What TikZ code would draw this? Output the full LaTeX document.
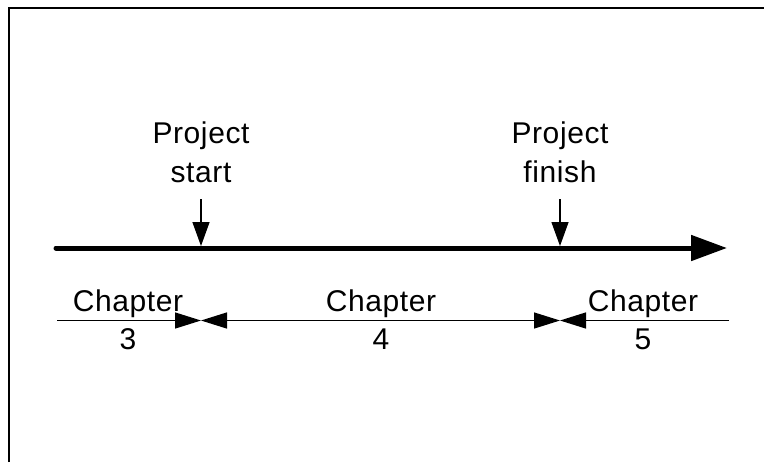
\documentclass[tikz,border=0pt]{standalone}
\usepackage{fontspec}
\setmainfont{Liberation Sans}
\newfontfamily\lblfont[LetterSpace=2]{Liberation Sans}
\usetikzlibrary{arrows.meta}
\begin{document}
\begin{tikzpicture}[x=0.75pt,y=-0.75pt,
  lbl/.style={font=\lblfont\fontsize{22.5}{26}\selectfont, inner sep=0pt, anchor=base},
  frame/.style={line width=1.5pt},
  timeline/.style={line width=3.75pt, line cap=round, -{Triangle[length=27pt,width=18.75pt]}},
  marker/.style={line width=1pt, -{Triangle[length=18pt,width=12.75pt]}},
  span/.style={line width=1pt},
  spantip/.tip={Triangle[length=19.5pt,width=12pt]}
]
\useasboundingbox (0,0) rectangle (764,462);

% open frame: left and top edges
\coordinate (fbl) at (9,462);
\coordinate (ftl) at (9,8);
\coordinate (ftr) at (764,8);
\draw[frame] (fbl) -- (ftl) -- (ftr);

% main time axis
\coordinate (t0) at (56,248);
\coordinate (t1) at (727,248);
\draw[timeline] (t0) -- (t1);

% milestones
\node[lbl] (projS) at (201,143) {Project};
\node[lbl] (projSb) at (201,182) {start};
\node[lbl] (projF) at (560,143) {Project};
\node[lbl] (projFb) at (560,182) {finish};

\coordinate (ms0) at (201,199);
\coordinate (ms1) at (201,246);
\coordinate (mf0) at (560,199);
\coordinate (mf1) at (560,246);
\draw[marker] (ms0) -- (ms1);
\draw[marker] (mf0) -- (mf1);

% chapter spans
\coordinate (c0) at (57,320.5);
\coordinate (c1) at (201,320.5);
\coordinate (c2) at (560,320.5);
\coordinate (c3) at (729,320.5);
\draw[span, -spantip] (c0) -- (c1);
\draw[span, spantip-spantip] (c1) -- (c2);
\draw[span, -spantip] (c3) -- (c2);

\node[lbl] (ch3) at (128,311) {Chapter};
\node[lbl] (ch3n) at (128,349) {3};
\node[lbl] (ch4) at (381,311) {Chapter};
\node[lbl] (ch4n) at (381,349) {4};
\node[lbl] (ch5) at (643,311) {Chapter};
\node[lbl] (ch5n) at (643,349) {5};
\end{tikzpicture}
\end{document}
